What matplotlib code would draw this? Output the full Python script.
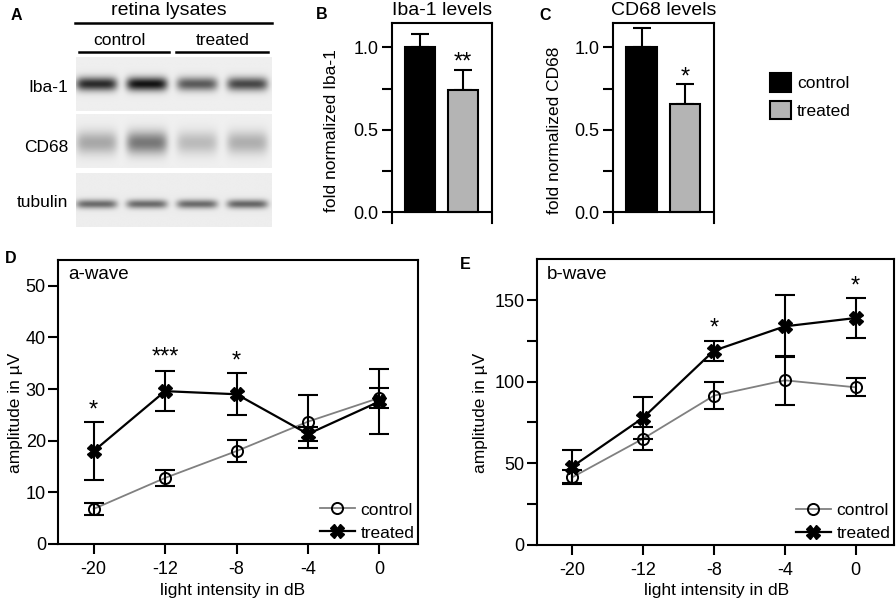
import matplotlib

matplotlib.use("Agg")
import matplotlib.pyplot as plt
import numpy as np
from matplotlib.patches import Patch

plt.rcParams.update({
    "font.family": ["Liberation Sans", "DejaVu Sans"],
    "font.size": 12.5,
    "axes.linewidth": 1.5,
    "xtick.major.width": 1.5,
    "ytick.major.width": 1.5,
    "xtick.major.size": 7.2,
    "ytick.major.size": 7.2,
    "xtick.direction": "out",
    "ytick.direction": "out",
    "xtick.labelsize": 13,
    "ytick.labelsize": 13,
})

W, H = 896, 601

# --- panel A: western blot band densities (0 = no band, 1 = black) ---
BLOT_ROWS = ["Iba-1", "CD68", "tubulin"]
IBA1_BANDS = [0.82, 0.92, 0.62, 0.70]
CD68_BANDS = [0.30, 0.50, 0.22, 0.27]
TUBULIN_BANDS = [0.55, 0.55, 0.55, 0.57]

# --- panels B, C: fold-normalized protein levels ---
GROUPS = ["control", "treated"]
IBA1_MEAN = [1.0, 0.743]
IBA1_SEM = [0.079, 0.118]
CD68_MEAN = [1.0, 0.659]
CD68_SEM = [0.115, 0.119]
IBA1_STARS = [(1, 0.943, "**")]
CD68_STARS = [(1, 0.852, "*")]

# --- panels D, E: ERG amplitudes ---
INTENSITY_DB = ["-20", "-12", "-8", "-4", "0"]
A_CTRL = [6.8, 12.8, 18.0, 23.7, 28.3]
A_CTRL_SEM = [1.2, 1.6, 2.1, 5.1, 2.0]
A_TRT = [18.0, 29.6, 29.0, 21.3, 27.6]
A_TRT_SEM = [5.7, 3.9, 4.1, 1.3, 6.3]
A_STARS = [(0, 26.9, "*"), (1, 37.2, "***"), (2, 36.4, "*")]

B_CTRL = [41.3, 65.0, 91.4, 100.8, 96.5]
B_CTRL_SEM = [4.3, 7.0, 8.3, 15.0, 5.5]
B_TRT = [47.8, 77.8, 119.0, 133.9, 139.0]
B_TRT_SEM = [10.0, 12.8, 6.1, 19.0, 12.5]
B_STARS = [(2, 135.9, "*"), (4, 161.7, "*")]

GRAY_BAR = "#b4b4b4"
GRAY_LINE = "#808080"
STAR_SIZE = 17


def px_axes(fig, left, top, right, bottom):
    return fig.add_axes([left / W, 1 - bottom / H, (right - left) / W, (bottom - top) / H])


def add_stars(ax, stars):
    # y is the centre of the asterisk glyph; shift down to its baseline
    for x, y, s in stars:
        ax.annotate(s, (x, y), xytext=(0, -0.5 * STAR_SIZE), textcoords="offset points",
                    ha="center", va="baseline", fontsize=STAR_SIZE)


def bar_panel(ax, mean, sem, title, ylabel, stars):
    x = np.arange(len(mean))
    bars = ax.bar(x, mean, width=0.7, color=["black", GRAY_BAR], edgecolor="black",
                  linewidth=1.5, label=GROUPS, zorder=2)
    ax.errorbar(x, mean, yerr=[np.zeros(len(sem)), sem], fmt="none", ecolor="black",
                elinewidth=1.5, capsize=6.5, capthick=1.5, zorder=1)
    ax.axhline(0, color="black", lw=1.5, zorder=3)
    ax.set_xlim(-0.66, 1.66)
    ax.set_ylim(-0.063, 1.15)
    ax.spines["bottom"].set_visible(False)
    ax.set_xticks([])
    ax.set_yticks([0, 0.25, 0.5, 0.75, 1.0], ["0.0", "", "0.5", "", "1.0"])
    ax.tick_params(axis="y", pad=2.5)
    ax.set_title(title, fontsize=14, pad=5.5)
    ax.set_ylabel(ylabel, va="center")
    add_stars(ax, stars)
    return bars


def erg_panel(ax, ctrl, ctrl_sem, trt, trt_sem, ylim, yticks, ylabels, name, stars):
    x = np.arange(len(INTENSITY_DB))
    ax.plot(x, ctrl, color=GRAY_LINE, lw=1.3, marker="o", ms=8, mfc="none",
            mec="black", mew=1.4, label="control", zorder=3)
    ax.plot(x, trt, color="black", lw=1.6, marker="X", ms=10, mfc="black",
            mec="black", label="treated", zorder=4)
    ax.errorbar(x, ctrl, yerr=ctrl_sem, fmt="none", ecolor="black", elinewidth=1.5,
                capsize=7, capthick=1.5, zorder=5)
    ax.errorbar(x, trt, yerr=trt_sem, fmt="none", ecolor="black", elinewidth=1.5,
                capsize=7, capthick=1.5, zorder=5)
    ax.set_xlim(-0.5, 4.54)
    ax.set_ylim(*ylim)
    ax.set_xticks(x, INTENSITY_DB)
    ax.set_yticks(yticks, ylabels)
    ax.tick_params(axis="y", pad=1.5)
    ax.tick_params(axis="x", pad=5)
    ax.set_xlabel("light intensity in dB", va="center")
    ax.set_ylabel("amplitude in µV", va="center")
    ax.text(0.028, 0.932, name, transform=ax.transAxes, fontsize=13.5, va="baseline")
    ax.legend(loc="lower right", frameon=False, handlelength=2.0, handletextpad=0.35,
              labelspacing=0.45, borderpad=0.05, borderaxespad=0.15, fontsize=12.5)
    add_stars(ax, stars)


def blot_strip(densities, xs, ys, band_y, band_sigma, bg):
    lane_x = np.linspace(96.5, 247.3, len(densities))
    img = np.full((len(ys), len(xs)), bg)
    gy = np.exp(-0.5 * ((ys - band_y) / band_sigma) ** 2)
    for cx, d in zip(lane_x, densities):
        gx = np.exp(-((xs - cx) / 20.5) ** 6)
        img -= d * bg * np.outer(gy, gx)
    return img


fig = plt.figure(figsize=(W / 100, H / 100), dpi=100)

# panel B and C
ax_b = px_axes(fig, 391.7, 22.7, 491.7, 222.7)
bars = bar_panel(ax_b, IBA1_MEAN, IBA1_SEM, "Iba-1 levels", "fold normalized Iba-1", IBA1_STARS)
ax_b.yaxis.set_label_coords(-0.6, 0.46)
ax_c = px_axes(fig, 612.7, 22.7, 714, 222.7)
bar_panel(ax_c, CD68_MEAN, CD68_SEM, "CD68 levels", "fold normalized CD68", CD68_STARS)
ax_c.yaxis.set_label_coords(-0.575, 0.46)
fig.legend(handles=[Patch(facecolor="black", edgecolor="black", lw=1.5, label=GROUPS[0]),
                    Patch(facecolor=GRAY_BAR, edgecolor="black", lw=1.5, label=GROUPS[1])],
           loc="center left", bbox_to_anchor=(769.5 / W, 1 - 96.2 / H), frameon=False,
           borderpad=0, borderaxespad=0, handlelength=1.23, handleheight=1.23,
           handletextpad=0.35, labelspacing=0.53, fontsize=12.5)

# panel D and E
ax_d = px_axes(fig, 58, 260, 418, 544)
erg_panel(ax_d, A_CTRL, A_CTRL_SEM, A_TRT, A_TRT_SEM, (0, 55),
          [0, 10, 20, 30, 40, 50], ["0", "10", "20", "30", "40", "50"], "a-wave", A_STARS)
ax_d.yaxis.set_label_coords(-0.119, 0.463)
ax_d.xaxis.set_label_coords(0.485, -0.162)
ax_e = px_axes(fig, 536.7, 259.3, 894, 544.7)
erg_panel(ax_e, B_CTRL, B_CTRL_SEM, B_TRT, B_TRT_SEM, (0, 175),
          [0, 25, 50, 75, 100, 125, 150], ["0", "", "50", "", "100", "", "150"],
          "b-wave", B_STARS)
ax_e.yaxis.set_label_coords(-0.158, 0.463)
ax_e.xaxis.set_label_coords(0.503, -0.159)

# overlay in pixel coordinates for panel A and panel letters
ov = fig.add_axes([0, 0, 1, 1])
ov.axis("off")
ov.patch.set_alpha(0)

xs = np.linspace(76, 271.7, 400)
strips = [
    (IBA1_BANDS, 57.3, 110.7, 84.0, 4.8, 0.935, 91.7),
    (CD68_BANDS, 115.0, 168.3, 143.3, 8.0, 0.94, 151.7),
    (TUBULIN_BANDS, 172.7, 226.7, 203.8, 3.2, 0.93, 206.7),
]
for name, (dens, top, bottom, by, bs, bg, label_y) in zip(BLOT_ROWS, strips):
    ys = np.linspace(top, bottom, 120)
    img = blot_strip(dens, xs, ys, by, bs, bg)
    ov.imshow(img, cmap="gray", vmin=0, vmax=1, extent=(76, 271.7, bottom, top),
              aspect="auto", interpolation="bilinear")
    ov.text(68.3, label_y, name, ha="right", va="baseline", fontsize=12.5)
ov.set_xlim(0, W)
ov.set_ylim(H, 0)

ov.text(169, 15, "retina lysates", ha="center", va="baseline", fontsize=14)
ov.plot([75, 271.7], [22.7, 22.7], color="black", lw=1.8)
ov.text(119, 45, "control", ha="center", va="baseline", fontsize=12.5)
ov.text(222.7, 45, "treated", ha="center", va="baseline", fontsize=12.5)
ov.plot([79, 169.3], [52.3, 52.3], color="black", lw=1.8)
ov.plot([176, 267.7], [52.3, 52.3], color="black", lw=1.8)

for letter, x, y in [("A", 16.7, 15), ("B", 321.3, 14.7), ("C", 545, 15),
                     ("D", 10.5, 258.3), ("E", 465.3, 264.7)]:
    ov.text(x, y, letter, ha="center", va="center", fontsize=11.5, fontweight="bold")

fig.savefig("out.png", dpi=100)
